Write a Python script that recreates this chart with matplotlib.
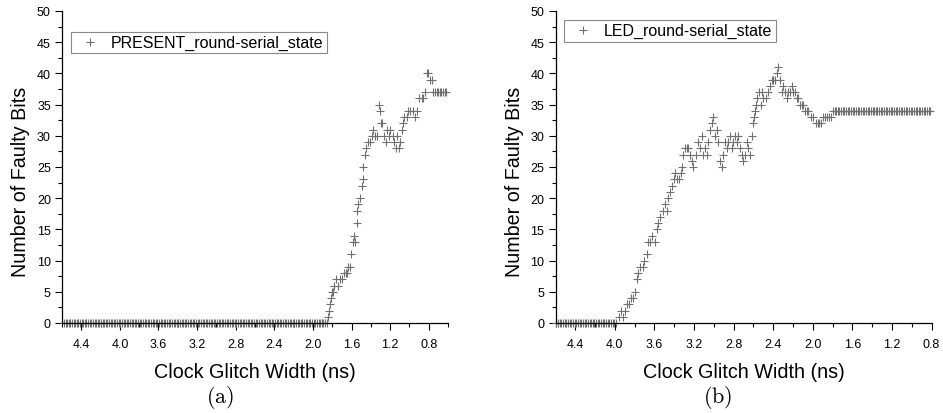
import numpy as np
import matplotlib
matplotlib.use("Agg")
import matplotlib.pyplot as plt
from matplotlib.ticker import MultipleLocator

plt.rcParams['font.family'] = ['Liberation Sans', 'DejaVu Sans']

# sweep step of the glitch width (ns)
step = 0.0167

# (a) PRESENT: flat segments (start, stop, value) and the varying part
a_flat = [(4.58, 1.855, 0), (0.752, 0.61, 37)]
a_x = [1.847, 1.833, 1.823, 1.812, 1.800, 1.788, 1.778, 1.761, 1.736, 1.719,
       1.702, 1.674, 1.662, 1.650, 1.633, 1.616, 1.605, 1.588, 1.574, 1.560,
       1.546, 1.540, 1.529, 1.512, 1.495, 1.484, 1.477, 1.460, 1.450, 1.432,
       1.408, 1.391, 1.374, 1.357, 1.339, 1.315, 1.305, 1.298, 1.281, 1.260,
       1.246, 1.236, 1.212, 1.201, 1.174, 1.156, 1.142, 1.125, 1.108, 1.098,
       1.080, 1.063, 1.053, 1.028, 1.011, 0.994, 0.966, 0.942, 0.925, 0.897,
       0.873, 0.856, 0.839, 0.821, 0.804, 0.787, 0.769]
a_y = [1, 2, 3, 4, 5, 5, 6, 7, 6, 7,
       7, 8, 8, 8, 9, 9, 11, 13, 14, 13,
       16, 18, 19, 20, 22, 23, 25, 27, 28, 29,
       29, 30, 31, 30, 30, 35, 34, 32, 32, 30,
       29, 31, 30, 31, 30, 29, 28, 30, 28, 29,
       31, 32, 33, 33, 34, 34, 34, 33, 34, 36,
       36, 36, 37, 40, 40, 39, 39]

# (b) LED
b_flat = [(4.59, 3.975, 0), (1.78, 0.795, 34)]
b_x = [3.959, 3.938, 3.915, 3.898, 3.881, 3.858, 3.841, 3.814, 3.797, 3.780,
       3.763, 3.747, 3.720, 3.703, 3.680, 3.663, 3.646, 3.629, 3.595, 3.578,
       3.562, 3.545, 3.518, 3.494, 3.477, 3.460, 3.443, 3.427, 3.403, 3.393,
       3.376, 3.352, 3.335, 3.319, 3.309, 3.292, 3.275, 3.258, 3.241, 3.225,
       3.208, 3.184, 3.164, 3.140, 3.123, 3.107, 3.090, 3.073, 3.056, 3.039,
       3.023, 3.006, 2.989, 2.972, 2.955, 2.938, 2.921, 2.905, 2.888, 2.871,
       2.854, 2.837, 2.820, 2.803, 2.787, 2.770, 2.753, 2.736, 2.719, 2.703,
       2.686, 2.669, 2.652, 2.635, 2.618, 2.608, 2.595, 2.585, 2.575, 2.561,
       2.544, 2.527, 2.511, 2.500, 2.477, 2.450, 2.433, 2.416, 2.399, 2.383,
       2.366, 2.349, 2.332, 2.315, 2.298, 2.282, 2.265, 2.248, 2.231, 2.214,
       2.198, 2.181, 2.164, 2.147, 2.130, 2.113, 2.097, 2.080, 2.063, 2.046,
       2.022, 1.996, 1.969, 1.952, 1.935, 1.918, 1.894, 1.877, 1.861, 1.834,
       1.811, 1.794]
b_y = [1, 2, 1, 2, 3, 3, 4, 4, 5, 7,
       8, 9, 9, 10, 11, 13, 13, 14, 13, 15,
       16, 17, 18, 19, 18, 20, 21, 22, 23, 24,
       23, 23, 24, 25, 27, 28, 28, 28, 27, 26,
       25, 27, 29, 28, 30, 27, 28, 27, 29, 31,
       32, 33, 30, 31, 29, 26, 25, 27, 29, 28,
       29, 30, 28, 29, 30, 29, 30, 28, 27, 26,
       27, 29, 28, 27, 30, 32, 33, 34, 35, 36,
       37, 35, 37, 36, 36, 37, 38, 39, 39, 39,
       40, 41, 39, 37, 38, 37, 36, 37, 37, 38,
       37, 37, 36, 36, 35, 35, 35, 34, 34, 34,
       33, 33, 32, 32, 32, 32, 33, 33, 33, 33,
       33, 34]

labels = ["PRESENT_round-serial_state", "LED_round-serial_state"]
xlims = [(4.6, 0.6), (4.6, 0.8)]
legend_anchor = [(0.023, 0.933), (0.023, 0.971)]
ylabel_x = [-0.083, -0.085]


def series(flat, xs, ys):
	# join the flat runs with the hand-read part
	X = list(xs)
	Y = list(ys)
	for start, stop, val in flat:
		seg = np.arange(start, stop, -step)
		X += list(seg)
		Y += [val] * len(seg)
	return X, Y


fig = plt.figure(figsize=(9.43, 4.14), dpi=100)
ax1 = fig.add_axes([62 / 943, 1 - 324 / 414, 386 / 943, 312 / 414])
ax2 = fig.add_axes([555.5 / 943, 1 - 324 / 414, 376 / 943, 312 / 414])

data = [series(a_flat, a_x, a_y), series(b_flat, b_x, b_y)]

for i, ax in enumerate([ax1, ax2]):
	X, Y = data[i]
	ax.plot(X, Y, linestyle='none', marker='+', markersize=6.2,
			markeredgewidth=0.8, color='#707070', label=labels[i], clip_on=False)
	ax.set_xlim(*xlims[i])
	ax.set_ylim(0, 50)
	ticks = np.arange(4.4, xlims[i][1] - 0.01, -0.4)
	ax.set_xticks(ticks)
	ax.set_xticklabels([f"{v:.1f}" for v in ticks])
	ax.xaxis.set_minor_locator(MultipleLocator(0.2))
	ax.yaxis.set_major_locator(MultipleLocator(5))
	ax.yaxis.set_minor_locator(MultipleLocator(2.5))
	ax.tick_params(which='major', direction='out', length=5, width=0.8, labelsize=9)
	ax.tick_params(which='minor', direction='out', length=3, width=0.8)
	ax.tick_params(axis='x', which='major', pad=5.5)
	ax.tick_params(axis='y', which='major', pad=3)
	ax.spines['top'].set_visible(False)
	ax.spines['right'].set_visible(False)
	ax.spines['left'].set_linewidth(0.9)
	ax.spines['bottom'].set_linewidth(0.9)
	ax.set_xlabel("Clock Glitch Width (ns)", fontsize=14.2)
	ax.set_ylabel("Number of Faulty Bits", fontsize=14.2)
	ax.xaxis.set_label_coords(0.5, -0.125)
	ax.yaxis.set_label_coords(ylabel_x[i], 0.457)
	leg = ax.legend(loc='upper left', bbox_to_anchor=legend_anchor[i],
					borderaxespad=0, fontsize=11.5, borderpad=0.2,
					handletextpad=0.3, handlelength=2.0, fancybox=False,
					framealpha=1, edgecolor='#888888')
	leg.get_frame().set_linewidth(0.8)

fig.text(220 / 943, 1 - 398 / 414, r"$\mathrm{(a)}$", math_fontfamily='cm',
		 fontsize=16, ha='center', va='center')
fig.text(718 / 943, 1 - 398 / 414, r"$\mathrm{(b)}$", math_fontfamily='cm',
		 fontsize=16, ha='center', va='center')

fig.savefig("out.png", dpi=100)
